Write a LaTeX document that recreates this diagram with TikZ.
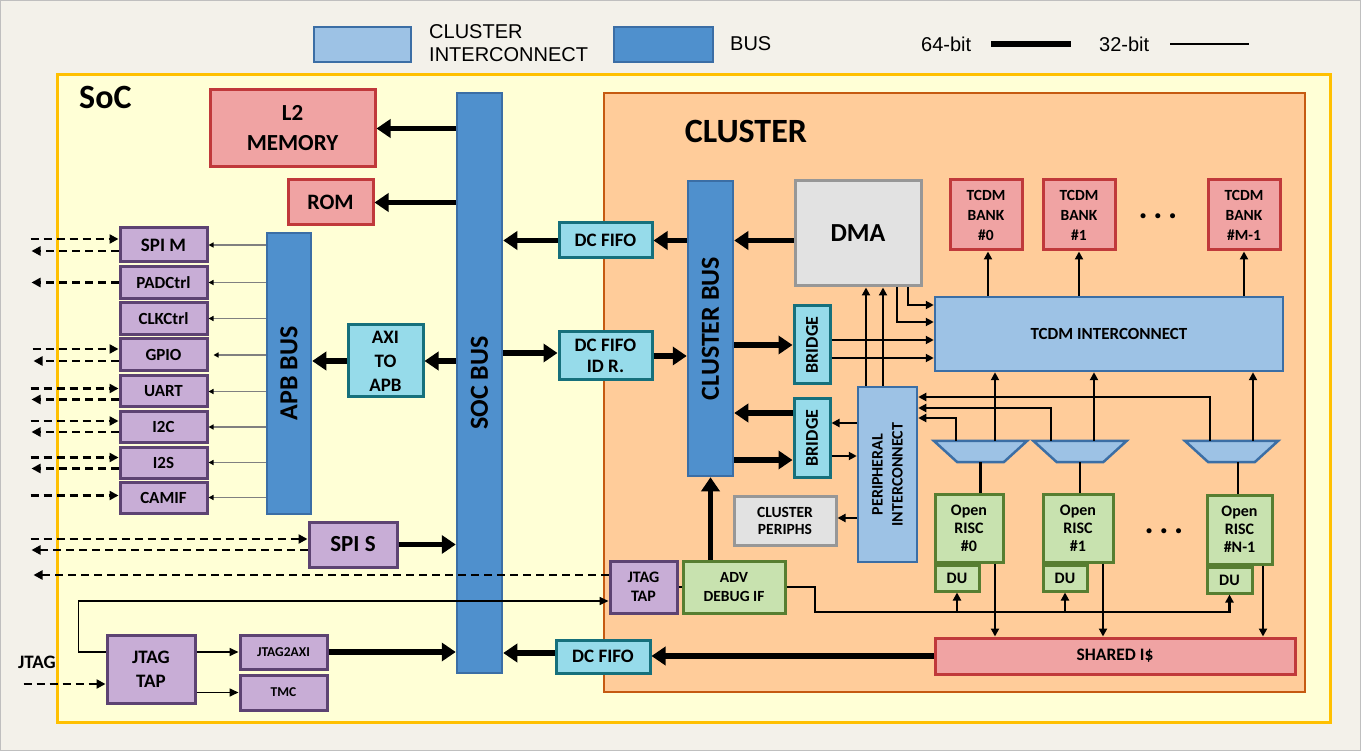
\documentclass[tikz,border=0pt]{standalone}
\usepackage{fontspec}
\setmainfont{Carlito}
\newfontfamily\legendfont{Liberation Sans}
\usetikzlibrary{positioning, calc, arrows.meta, shapes.geometric}

\definecolor{bgcol}{HTML}{F3F1EA}
\definecolor{framecol}{HTML}{BFBFBF}
\definecolor{socfill}{HTML}{FFFFD6}
\definecolor{socline}{HTML}{FFC000}
\definecolor{clfill}{HTML}{FFCC9A}
\definecolor{clline}{HTML}{C55A11}
\definecolor{redfill}{HTML}{F0A3A3}
\definecolor{redline}{HTML}{C0393B}
\definecolor{busfill}{HTML}{4F90CD}
\definecolor{busline}{HTML}{3B6EA5}
\definecolor{ltfill}{HTML}{9DC2E5}
\definecolor{tealfill}{HTML}{96DBEA}
\definecolor{tealline}{HTML}{16707C}
\definecolor{purfill}{HTML}{C8ADD6}
\definecolor{purline}{HTML}{5D4372}
\definecolor{grnfill}{HTML}{C8E2AF}
\definecolor{grnline}{HTML}{577E31}
\definecolor{gryfill}{HTML}{E2E2E2}
\definecolor{gryline}{HTML}{979797}

\newcommand{\fsz}[2]{\bfseries\fontsize{#1}{#2}\selectfont}

\tikzset{
  box/.style={draw, line width=3pt, inner sep=0pt, align=center},
  redbox/.style={box, draw=redline, fill=redfill},
  busbox/.style={box, line width=2.5pt, draw=busline, fill=busfill},
  ltbox/.style={box, line width=2.5pt, draw=busline, fill=ltfill},
  tealbox/.style={box, draw=tealline, fill=tealfill, font=\fsz{19}{22}},
  purbox/.style={box, draw=purline, fill=purfill, font=\fsz{17}{20}},
  grnbox/.style={box, draw=grnline, fill=grnfill, font=\fsz{16}{18}},
  grybox/.style={box, draw=gryline, fill=gryfill},
  periph/.style={purbox, minimum width=87pt, minimum height=32pt},
  buslbl/.style={rotate=90, font=\fsz{26}{30}},
  rotlbl/.style={rotate=90, align=center, font=\fsz{18}{20}},
  muxslot/.style={inner sep=0pt, minimum width=93pt, minimum height=21pt},
  muxshape/.style={draw=busline, fill=ltfill, line width=2.5pt, line join=miter},
  legendtxt/.style={inner sep=0pt, align=left, font=\legendfont\fontsize{20}{23}\selectfont},
  w64/.style={line width=5.5pt, -{Triangle[length=14pt,width=18pt]}},
  w32/.style={line width=2.3pt, -{Triangle[length=8pt,width=8pt]}},
  l32/.style={line width=2.3pt},
  thin32/.style={line width=1.6pt, -{Triangle[length=9pt,width=8pt]}},
  apbarrow/.style={draw=gray, line width=1.2pt, -{Triangle[black,length=5pt,width=5pt]}},
  pad/.style={line width=2.8pt, dash pattern=on 8pt off 5pt, -{Triangle[length=9pt,width=9pt]}},
}

\begin{document}
\begin{tikzpicture}[x=1pt, y=-1pt]
\useasboundingbox (0,0) rectangle (1361,751);
\draw[framecol, fill=bgcol, line width=1pt] (0.5,0.5) rectangle (1360.5,750.5);

% ===================================================
% 1. LEGEND
% ===================================================
\node[ltbox, minimum width=97pt, minimum height=35pt] (keyci) at (362.5,44.5) {};
\node[legendtxt, anchor=west] (keycitxt) at (429,43) {CLUSTER\\INTERCONNECT};
\node[busbox, minimum width=99pt, minimum height=35pt] (keybus) at (663.5,44.5) {};
\node[legendtxt, anchor=west] (keybustxt) at (730,44) {BUS};
\node[legendtxt, anchor=west] (key64) at (921,44) {64-bit};
\draw[line width=6.5pt] (key64.east) ++(20,0) -- ++(80,0);
\node[legendtxt, anchor=west] (key32) at (1099,44) {32-bit};
\draw[line width=2.2pt] (key32.east) ++(21,0) -- ++(79,0);

% ===================================================
% 2. SOC AND CLUSTER FRAMES
% ===================================================
\node[draw=socline, fill=socfill, line width=3pt, minimum width=1273pt, minimum height=647pt] (soc) at (693.5,398.5) {};
\node[anchor=west, inner sep=0pt, font=\fsz{34}{36}] (soclbl) at (79,97) {SoC};
\node[draw=clline, fill=clfill, line width=2.5pt, minimum width=701pt, minimum height=599pt] (cluster) at (954.5,392.5) {};
\node[inner sep=0pt, font=\fsz{34}{36}] (cllbl) at (746,131) {CLUSTER};

% ===================================================
% 3. SOC SIDE BLOCKS
% ===================================================
\node[redbox, minimum width=165pt, minimum height=77pt, font=\fsz{23}{30}] (l2) at (292.5,128.5) {L2\\MEMORY};
\node[redbox, minimum width=85pt, minimum height=45pt, font=\fsz{22}{26}] (rom) at (330.5,202.5) {ROM};

% buses
\node[busbox, minimum width=45pt, minimum height=580pt, label={[buslbl]center:SOC BUS}] (socbus) at (479.5,383) {};
\node[busbox, minimum width=44pt, minimum height=281pt, label={[buslbl]center:APB BUS}] (apbbus) at (289,373.5) {};
\node[busbox, minimum width=45pt, minimum height=295pt, label={[buslbl]center:CLUSTER BUS}] (clbus) at (710.5,328.5) {};

% bridges and fifos
\node[tealbox, minimum width=75pt, minimum height=72pt, font=\fsz{19}{24}] (axi2apb) at (385.5,361) {AXI\\TO\\APB};
\node[tealbox, minimum width=93pt, minimum height=35pt] (fifoA) at (605.5,240.5) {DC FIFO};
\node[tealbox, minimum width=93pt, minimum height=48pt, font=\fsz{19}{21}] (fifoB) at (605.5,356) {DC FIFO\\ID R.};
\node[tealbox, minimum width=94pt, minimum height=33pt] (fifoC) at (603,656.5) {DC FIFO};

% APB peripherals
\node[periph, minimum height=34pt, font=\fsz{19}{20}] (spim) at (163.5,245) {SPI M};
\node[periph] (padctrl) at (163.5,282.5) {PADCtrl};
\node[periph] (clkctrl) at (163.5,318.5) {CLKCtrl};
\node[periph] (gpio) at (163.5,355) {GPIO};
\node[periph, minimum height=31pt] (uart) at (163.5,391.5) {UART};
\node[periph, minimum height=30pt] (itwoc) at (163.5,427) {I2C};
\node[periph, minimum height=31pt] (itwos) at (163.5,462.5) {I2S};
\node[periph, minimum height=31pt] (camif) at (163.5,497.5) {CAMIF};

\node[purbox, minimum width=88pt, minimum height=45pt, font=\fsz{23}{26}] (spis) at (353,544.5) {SPI S};

% JTAG on the SoC
\node[purbox, minimum width=88pt, minimum height=68pt, font=\fsz{19}{24}] (jtagtap) at (151,669) {JTAG\\TAP};
\node[purbox, minimum width=87pt, minimum height=34pt, font=\fsz{13.5}{15}] (jtag2axi) at (283.5,652) {JTAG2AXI};
\node[purbox, minimum width=87pt, minimum height=35pt, font=\fsz{13.5}{15}] (tmc) at (283.5,692.5) {TMC};
\node[inner sep=0pt, font=\fsz{19}{20}] (jtaglbl) at (37,662) {JTAG};

% ===================================================
% 4. CLUSTER BLOCKS
% ===================================================
\node[grybox, minimum width=126pt, minimum height=105pt, font=\fsz{26}{28}] (dma) at (858,233.5) {DMA};
\node[tealbox, minimum width=36pt, minimum height=78pt, label={[rotlbl]center:BRIDGE}] (bridgeA) at (812,345) {};
\node[tealbox, minimum width=36pt, minimum height=78pt, label={[rotlbl]center:BRIDGE}] (bridgeB) at (812,438) {};
\node[ltbox, minimum width=59pt, minimum height=175pt,
  label={[rotlbl, font=\fsz{16}{20}]center:PERIPHERAL\\INTERCONNECT}] (periph) at (887.5,474.5) {};
\node[grybox, minimum width=102pt, minimum height=49pt, font=\fsz{15.5}{17}] (cperiphs) at (785,520.5) {CLUSTER\\PERIPHS};

\node[ltbox, minimum width=348pt, minimum height=74pt, font=\fsz{17}{20}] (tcdm) at (1109,334) {TCDM INTERCONNECT};
\node[redbox, minimum width=72pt, minimum height=70pt, font=\fsz{15.5}{20}] (bank0) at (986,215) {TCDM\\BANK\\\#0};
\node[redbox, minimum width=72pt, minimum height=70pt, font=\fsz{15.5}{20}] (bank1) at (1079,215) {TCDM\\BANK\\\#1};
\node[redbox, minimum width=72pt, minimum height=70pt, font=\fsz{15.5}{20}] (bankM) at (1244,215) {TCDM\\BANK\\\#M-1};
\node[font=\fsz{34}{34}] (bankdots) at (1158,216) {.\,.\,.};

% muxes (slot nodes, trapezoid drawn from their corners)
\node[muxslot] (mux0) at (980.5,451.5) {};
\node[muxslot] (mux1) at (1080,451.5) {};
\node[muxslot] (muxN) at (1231.5,451.5) {};
\draw[muxshape] (mux0.north west) -- (mux0.north east) -- ([xshift=-23.5pt]mux0.south east) -- ([xshift=23.5pt]mux0.south west) -- cycle;
\draw[muxshape] (mux1.north west) -- (mux1.north east) -- ([xshift=-23.5pt]mux1.south east) -- ([xshift=23.5pt]mux1.south west) -- cycle;
\draw[muxshape] (muxN.north west) -- (muxN.north east) -- ([xshift=-23.5pt]muxN.south east) -- ([xshift=23.5pt]muxN.south west) -- cycle;

% cores with debug units
\node[grnbox, minimum width=68pt, minimum height=68pt] (or0) at (969,528) {Open\\RISC\\\#0};
\node[grnbox, minimum width=70pt, minimum height=68pt] (or1) at (1078,528) {Open\\RISC\\\#1};
\node[grnbox, minimum width=65pt, minimum height=69pt] (orN) at (1239.5,529.5) {Open\\RISC\\\#N-1};
\node[grnbox, minimum width=44pt, minimum height=26pt, anchor=north west] (du0) at (or0.south west) {DU};
\node[grnbox, minimum width=44pt, minimum height=26pt, anchor=north west] (du1) at (or1.south west) {DU};
\node[grnbox, minimum width=45pt, minimum height=26pt, anchor=north west] (duN) at (orN.south west) {DU};
\node[font=\fsz{34}{34}] (coredots) at (1164,531) {.\,.\,.};

\node[purbox, minimum width=67pt, minimum height=52pt, font=\fsz{16}{19}] (jtagc) at (643.5,587) {JTAG\\TAP};
\node[grnbox, minimum width=102pt, minimum height=52pt, font=\fsz{15.5}{19}] (adv) at (734,587) {ADV\\DEBUG IF};
\node[redbox, minimum width=360pt, minimum height=36pt, font=\fsz{17.5}{20}] (shared) at (1115,656) {SHARED I\$};

% ===================================================
% 5. 64-BIT CONNECTIONS
% ===================================================
\draw[w64] (socbus.west |- l2) -- (l2.east);
\draw[w64] (socbus.west |- rom) -- (rom.east);
\draw[w64] (fifoA.west) -- (socbus.east |- fifoA);
\draw[w64] (clbus.west |- fifoA) -- (fifoA.east);
\draw[w64] (socbus.west |- axi2apb) -- (axi2apb.east);
\draw[w64] (axi2apb.west) -- (apbbus.east |- axi2apb);
\draw[w64] (socbus.east |- 0,353) -- (fifoB.west |- 0,353);
\draw[w64] (fifoB.east) -- (clbus.west |- fifoB);
\draw[w64] (spis.east) -- (socbus.west |- spis);
\draw[w64] (jtag2axi.east) -- (socbus.west |- jtag2axi);
\draw[w64] (fifoC.west |- 0,653) -- (socbus.east |- 0,653);
\draw[w64] (shared.west) -- (fifoC.east |- shared);
\draw[w64] (dma.west |- fifoA) -- (clbus.east |- fifoA);
\draw[w64] (clbus.east |- bridgeA) -- (bridgeA.west);
\draw[w64] (bridgeB.west |- 0,413) -- (clbus.east |- 0,413);
\draw[w64] (clbus.east |- 0,460) -- (bridgeB.west |- 0,460);
\draw[w64] (adv.north -| clbus) -- (clbus.south);

% ===================================================
% 6. APB AND PAD CONNECTIONS
% ===================================================
\draw[apbarrow] (apbbus.west |- spim) -- (spim.east);
\draw[apbarrow] (apbbus.west |- padctrl) -- (padctrl.east);
\draw[apbarrow] (apbbus.west |- clkctrl) -- (clkctrl.east);
\draw[apbarrow] (apbbus.west |- gpio) -- ([xshift=5pt]gpio.east);
\draw[apbarrow] (apbbus.west |- uart) -- (uart.east);
\draw[apbarrow] (apbbus.west |- itwoc) -- (itwoc.east);
\draw[apbarrow] (apbbus.west |- itwos) -- (itwos.east);
\draw[apbarrow] (apbbus.west |- camif) -- (camif.east);

% pads in / out
\draw[pad] ([yshift=6pt]spim.west) ++(-88,0) -- ++(88,0);
\draw[pad] ([yshift=-6pt]spim.west) -- ++(-87,0);
\draw[pad] (padctrl.west) -- ++(-87,0);
\draw[pad] ([yshift=6pt]gpio.west) ++(-86,0) -- ++(86,0);
\draw[pad] ([yshift=-6pt]gpio.west) -- ++(-85,0);
\draw[pad] ([yshift=3pt]uart.west) ++(-88,0) -- ++(88,0);
\draw[pad] ([yshift=-8pt]uart.west) -- ++(-87,0);
\draw[pad] ([yshift=6pt]itwoc.west) ++(-88,0) -- ++(88,0);
\draw[pad] ([yshift=-5pt]itwoc.west) -- ++(-87,0);
\draw[pad] ([yshift=5pt]itwos.west) ++(-88,0) -- ++(88,0);
\draw[pad] ([yshift=-6pt]itwos.west) -- ++(-87,0);
\draw[pad] ([yshift=2pt]camif.west) ++(-88,0) -- ++(88,0);
\draw[pad] ([yshift=5.5pt]spis.west) ++(-277,0) -- ++(277,0);
\draw[pad] ([yshift=-5.5pt]spis.west) -- ++(-276,0);
\draw[pad] (jtagc.west |- 0,575) -- ++(-575,0);
\draw[pad] ([yshift=-15pt]jtagtap.west) ++(-82,0) -- ++(82,0);

% JTAG chain
\draw[thin32] ([yshift=17pt]jtagtap.west) -- ++(-27,0) |- (jtagc.west |- 0,601);
\draw[thin32] (jtagtap.east |- jtag2axi) -- (jtag2axi.west);
\draw[thin32] (jtagtap.east |- tmc) -- (tmc.west);

% ===================================================
% 7. 32-BIT CONNECTIONS IN THE CLUSTER
% ===================================================
\draw[w32] (bridgeA.east |- 0,340) -- (tcdm.west |- 0,340);
\draw[w32] (bridgeA.east |- 0,358) -- (tcdm.west |- 0,358);
\draw[w32] (dma.south -| 897,0) |- (tcdm.west |- 0,322);
\draw[w32] (dma.south -| 908,0) |- (tcdm.west |- 0,305);
\draw[w32] (periph.north -| 866,0) -- (dma.south -| 866,0);
\draw[w32] (periph.north -| 883,0) -- (dma.south -| 883,0);
\draw[w32] (periph.west |- 0,423) -- (bridgeB.east |- 0,423);
\draw[w32] (bridgeB.east |- 0,456) -- (periph.west |- 0,456);
\draw[w32] (periph.west |- 0,518) -- (cperiphs.east |- 0,518);

% interconnect to banks
\draw[w32] (tcdm.north -| 988,0) -- (bank0.south -| 988,0);
\draw[w32] (tcdm.north -| bank1) -- (bank1.south);
\draw[w32] (tcdm.north -| bankM) -- (bankM.south);

% muxes to interconnects
\draw[w32] (mux0.north -| 995,0) -- (tcdm.south -| 995,0);
\draw[w32] (mux1.north -| 1094,0) -- (tcdm.south -| 1094,0);
\draw[w32] (muxN.north -| 1253,0) -- (tcdm.south -| 1253,0);
\draw[w32] (mux0.north -| 956,0) |- (periph.east |- 0,418);
\draw[w32] (mux1.north -| 1051,0) |- (periph.east |- 0,408);
\draw[w32] (muxN.north -| 1210,0) |- (periph.east |- 0,397);

% cores to muxes and shared I$
\draw[l32] (mux0.south) -- (mux0.south |- or0.north);
\draw[l32] (mux1.south) -- (mux1.south |- or1.north);
\draw[l32] (muxN.south -| 1238,0) -- (orN.north -| 1238,0);
\draw[w32] (or0.south -| 995,0) -- (shared.north -| 995,0);
\draw[w32] (or1.south -| 1103,0) -- (shared.north -| 1103,0);
\draw[w32] (orN.south -| 1263,0) -- (shared.north -| 1263,0);

% debug path
\draw[l32] (jtagc.east) -- (adv.west);
\coordinate (dbgbus) at (815,612);
\draw[w32] (adv.east) -| (dbgbus) -| (duN.south);
\draw[w32] (dbgbus -| du0) -- (du0.south);
\draw[w32] (dbgbus -| du1) -- (du1.south);

\end{tikzpicture}
\end{document}
